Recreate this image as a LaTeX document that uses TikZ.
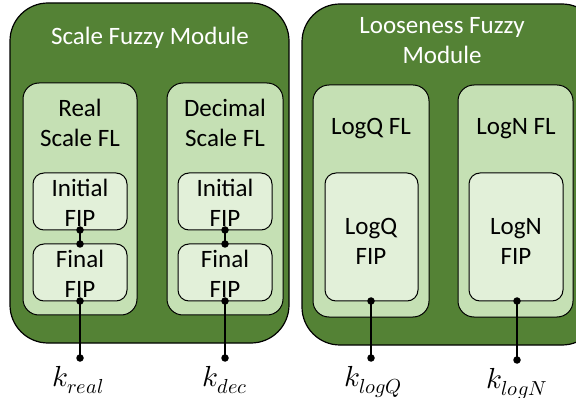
\documentclass[tikz,border=0pt]{standalone}
\usepackage{fontspec}
\usepackage{unicode-math}
\setmainfont{Carlito}
\setmathfont{Latin Modern Math}
\definecolor{darkg}{HTML}{548235}
\definecolor{midg}{HTML}{C5E0B4}
\definecolor{lightg}{HTML}{E2F0D9}
\tikzset{
  module/.style={draw=black, line width=1.2pt, fill=darkg, rounded corners=38pt},
  flbox/.style={draw=black, line width=1pt, fill=midg, rounded corners=16pt},
  fipbox/.style={draw=black, line width=1pt, fill=lightg, rounded corners=11pt},
  txt/.style={font=\fontsize{25}{30}\selectfont, align=center, inner sep=0pt},
  wtxt/.style={txt, text=white},
  conn/.style={line width=2.2pt, draw=black},
  dot/.style={circle, fill=black, inner sep=0pt, minimum size=7.5pt},
  klab/.style={font=\fontsize{29}{32}\selectfont, inner sep=0pt, anchor=north}
}
\begin{document}
\begin{tikzpicture}[x=1pt, y=-1pt]
\useasboundingbox (0,0) rectangle (576,398);
\clip (0,0) rectangle (576,398);
% modules
\path[module] (10,3) rectangle (289,343);
\path[module] (302,4) rectangle (600,345);
\node[wtxt] (t1) at (150,38) {Scale Fuzzy Module};
\node[wtxt] (t2) at (442,41) {Looseness Fuzzy\\Module};
% FL boxes
\path[flbox] (23,83) rectangle (137,315);
\path[flbox] (167,83) rectangle (283,315);
\path[flbox] (313,85) rectangle (429,317);
\path[flbox] (458,85) rectangle (573,317);
\node[txt] (f1) at (80,123) {Real\\Scale FL};
\node[txt] (f2) at (225,123) {Decimal\\Scale FL};
\node[txt] (f3) at (371,129) {LogQ FL};
\node[txt] (f4) at (516,129) {LogN FL};
% FIP boxes
\path[fipbox] (33,173) rectangle (127,230);
\path[fipbox] (33,244) rectangle (127,301);
\path[fipbox] (178,173) rectangle (272,230);
\path[fipbox] (178,244) rectangle (272,301);
\path[fipbox] (325,173) rectangle (418,301);
\path[fipbox] (469,173) rectangle (563,301);
\node[txt] (a1) at (80,203) {Initial\\FIP};
\node[txt] (b1) at (80,274) {Final\\FIP};
\node[txt] (a2) at (225,203) {Initial\\FIP};
\node[txt] (b2) at (225,274) {Final\\FIP};
\node[txt] (c1) at (371,241) {LogQ\\FIP};
\node[txt] (c2) at (516,241) {LogN\\FIP};
% dots
\node[dot] (a1b) at (80,230) {};
\node[dot] (b1t) at (80,244) {};
\node[dot] (b1b) at (80,301) {};
\node[dot] (e1) at (80,358) {};
\node[dot] (a2b) at (225,230) {};
\node[dot] (b2t) at (225,244) {};
\node[dot] (b2b) at (225,301) {};
\node[dot] (e2) at (225,358) {};
\node[dot] (c1b) at (371,301) {};
\node[dot] (e3) at (371,358) {};
\node[dot] (c2b) at (517,301) {};
\node[dot] (e4) at (517,360) {};
% connectors
\draw[conn] (a1b.center) -- (b1t.center);
\draw[conn] (b1b.center) -- (e1.center);
\draw[conn] (a2b.center) -- (b2t.center);
\draw[conn] (b2b.center) -- (e2.center);
\draw[conn] (c1b.center) -- (e3.center);
\draw[conn] (c2b.center) -- (e4.center);
% labels
\node[klab] (k1) at (78,366) {$k_{real}$};
\node[klab] (k2) at (225,366) {$k_{dec}$};
\node[klab] (k3) at (373,366) {$k_{logQ}$};
\node[klab] (k4) at (517,368) {$k_{logN}$};
\end{tikzpicture}
\end{document}
